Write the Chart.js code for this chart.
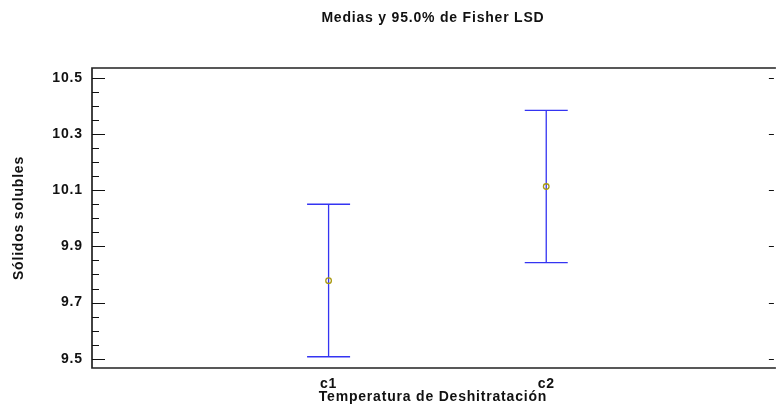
<!DOCTYPE html>
<html>
<head>
<meta charset="utf-8">
<script src="https://cdn.jsdelivr.net/npm/chart.js@4/dist/chart.umd.min.js"></script>
<style>
  html, body { margin: 0; padding: 0; background: #fff; overflow: hidden; }
  #wrap { width: 778px; height: 413px; position: relative; }
</style>
</head>
<body>
<div id="wrap"><canvas id="c" width="778" height="413"></canvas></div>
<script>
// Group means with 95% Fisher LSD intervals
const categories = ['c1', 'c2'];
const means = [9.778, 10.113];
const lowerLimits = [9.507, 9.842];
const upperLimits = [10.050, 10.384];

// Y axis ticks
const yTickValues = [9.5, 9.7, 9.9, 10.1, 10.3, 10.5];
const yTickLabels = ['9.5', '9.7', '9.9', '10.1', '10.3', '10.5'];
const yMinorValues = [];
for (let k = 0; k <= 20; k++) yMinorValues.push(+(9.5 + k * 0.05).toFixed(2));

const FONT = "'Liberation Sans', Arial, sans-serif";
const TEXT = { family: FONT, size: 14, weight: 'bold', lineHeight: 1.2 };
const INK = '#111';
const BAR = '#3434f2';
const SPACING = '0.8px';

// Slightly spread lettering for all chart text
const spacingPlugin = {
  id: 'spacing',
  beforeUpdate(chart) { chart.ctx.letterSpacing = SPACING; },
  beforeLayout(chart) { chart.ctx.letterSpacing = SPACING; },
  beforeDraw(chart) { chart.ctx.letterSpacing = SPACING; }
};

// Intervals: vertical whisker with caps, placed through the scales
const intervalPlugin = {
  id: 'intervals',
  beforeDatasetsDraw(chart) {
    const { ctx, scales: { x, y } } = chart;
    ctx.save();
    ctx.strokeStyle = BAR;
    ctx.lineWidth = 1.3;
    categories.forEach((_, i) => {
      const px = x.getPixelForValue(i + 1);
      const top = y.getPixelForValue(upperLimits[i]);
      const bot = y.getPixelForValue(lowerLimits[i]);
      ctx.beginPath();
      ctx.moveTo(px, top); ctx.lineTo(px, bot);
      ctx.moveTo(px - 21.5, top); ctx.lineTo(px + 21.5, top);
      ctx.moveTo(px - 21.5, bot); ctx.lineTo(px + 21.5, bot);
      ctx.stroke();
    });
    ctx.restore();
  }
};

// Plot frame with inward tick marks
const framePlugin = {
  id: 'frame',
  afterDraw(chart) {
    const { ctx, chartArea: a, scales: { y } } = chart;
    ctx.save();
    ctx.strokeStyle = '#222';
    ctx.lineWidth = 1.7;
    ctx.beginPath();
    ctx.moveTo(a.right + 2, a.top); ctx.lineTo(a.left, a.top);
    ctx.lineTo(a.left, a.bottom); ctx.lineTo(a.right + 2, a.bottom);
    ctx.stroke();
    ctx.lineWidth = 1;
    ctx.strokeStyle = INK;
    ctx.beginPath();
    yMinorValues.forEach(v => {
      const py = Math.round(y.getPixelForValue(v)) + 0.5;
      const major = yTickValues.some(t => Math.abs(t - v) < 1e-6);
      ctx.moveTo(a.left, py); ctx.lineTo(a.left + (major ? 13 : 7), py);
    });
    yTickValues.forEach(v => {
      const py = Math.round(y.getPixelForValue(v)) + 0.5;
      ctx.moveTo(a.right, py); ctx.lineTo(a.right - 5, py);
    });
    ctx.stroke();
    ctx.restore();
  }
};

new Chart(document.getElementById('c'), {
  type: 'scatter',
  data: {
    datasets: [{
      label: 'Media',
      data: means.map((m, i) => ({ x: i + 1, y: m })),
      pointStyle: 'circle',
      pointRadius: 2.8,
      pointHoverRadius: 2.8,
      borderColor: '#aa9a12',
      backgroundColor: 'rgba(0,0,0,0)',
      borderWidth: 1.3
    }]
  },
  options: {
    responsive: false,
    animation: false,
    events: [],
    layout: { padding: 0 },
    plugins: {
      legend: { display: false },
      tooltip: { enabled: false },
      title: {
        display: true,
        fullSize: false,
        text: 'Medias y 95.0% de Fisher LSD',
        color: INK,
        font: TEXT,
        padding: { top: 9.6, bottom: 41.6 }
      }
    },
    scales: {
      x: {
        type: 'linear',
        min: -0.087,
        max: 3.046,
        grid: { display: false, drawTicks: false },
        border: { display: false },
        afterBuildTicks(scale) { scale.ticks = categories.map((_, i) => ({ value: i + 1 })); },
        afterFit(scale) { scale.height = 45; },
        ticks: {
          color: INK,
          padding: 7.6,
          maxRotation: 0,
          autoSkip: false,
          font: TEXT,
          callback: (v) => categories[Math.round(v) - 1] ?? ''
        },
        title: {
          display: true,
          text: 'Temperatura de Deshitratación',
          color: INK,
          font: TEXT,
          padding: { top: 0, bottom: 7.6 }
        }
      },
      y: {
        type: 'linear',
        min: 9.467,
        max: 10.535,
        grid: { display: false, drawTicks: false },
        border: { display: false },
        afterBuildTicks(scale) { scale.ticks = yTickValues.map(v => ({ value: v })); },
        afterFit(scale) { scale.width = 92; },
        ticks: {
          color: INK,
          padding: 9.2,
          autoSkip: false,
          font: TEXT,
          callback: (v) => yTickLabels[yTickValues.findIndex(t => Math.abs(t - v) < 1e-6)] ?? ''
        },
        title: {
          display: true,
          text: 'Sólidos solubles',
          color: INK,
          font: TEXT,
          padding: { top: 10.6, bottom: 0 }
        }
      }
    }
  },
  plugins: [spacingPlugin, intervalPlugin, framePlugin]
});
</script>
</body>
</html>
